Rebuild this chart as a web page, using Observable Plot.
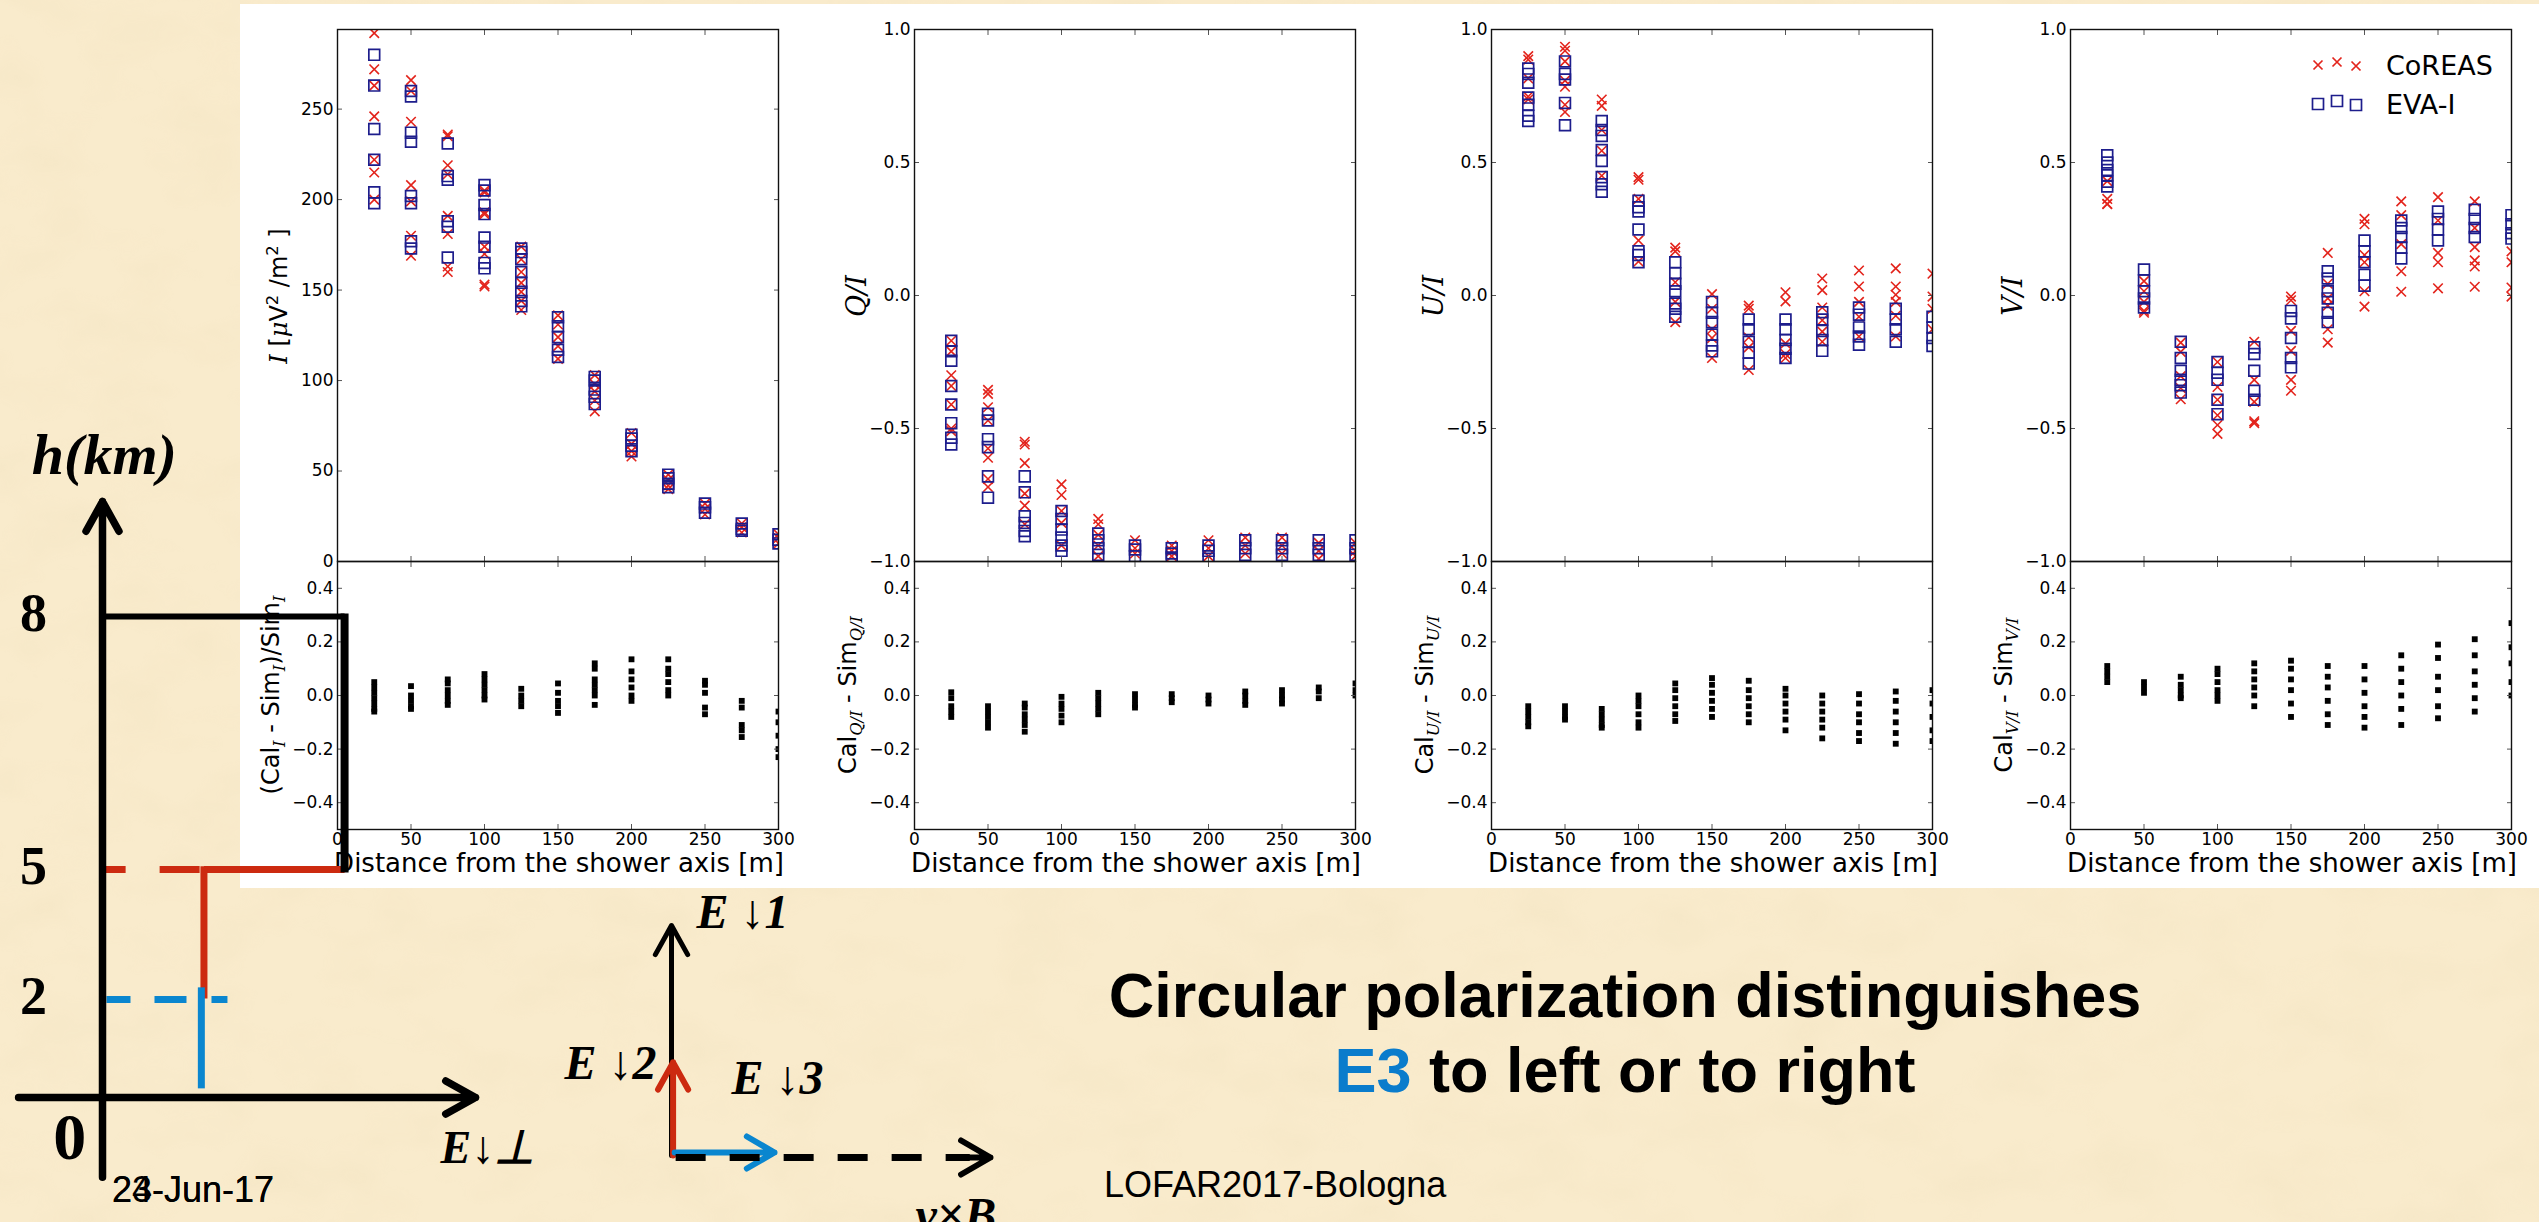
<!DOCTYPE html>
<html>
<head>
<meta charset="utf-8">
<script src="https://cdn.jsdelivr.net/npm/d3@7"></script>
<script src="https://cdn.jsdelivr.net/npm/@observablehq/plot@0.6"></script>
<style>
  html, body { margin: 0; padding: 0; }
  body { width: 2539px; height: 1222px; overflow: hidden; position: relative; background: #f9ebcc;
         font-family: "Liberation Sans", Arial, sans-serif; }
  .abs { position: absolute; }
  #sheet { left: 240px; top: 4px; width: 2299px; height: 884px; background: #fff; }
  .ylab { position: absolute; transform: translate(-50%, -50%) rotate(-90deg); white-space: nowrap;
          font-family: "DejaVu Sans", sans-serif; color: #000; line-height: 1; }
  .ylab sub, .ylab sup { font-size: 0.68em; line-height: 0; }
  .math { font-family: "DejaVu Serif", serif; font-style: italic; }
  .xlab { position: absolute; white-space: nowrap; font-family: "DejaVu Sans", sans-serif; font-size: 26px;
          line-height: 26px; transform: translateX(-50%); color: #000; }
  .slide { position: absolute; white-space: nowrap; color: #000; }
</style>
</head>
<body>
<svg class="abs" style="left:0;top:0" width="2539" height="1222">
  <filter id="paper" x="0" y="0" width="100%" height="100%">
    <feTurbulence type="fractalNoise" baseFrequency="0.012 0.02" numOctaves="3" seed="7"/>
    <feColorMatrix type="matrix" values="0 0 0 0 0.86  0 0 0 0 0.74  0 0 0 0 0.5  0 0 0 1.6 -0.7"/>
  </filter>
  <rect width="2539" height="1222" fill="#f9ebcc"/>
  <rect width="2539" height="1222" filter="url(#paper)" opacity="0.35"/>
</svg>
<div id="sheet" class="abs"></div>

<script>
// Distances from the shower axis [m] at which the antennas sit
const distances = [25, 50, 75, 100, 125, 150, 175, 200, 225, 250, 275, 300];
const distTicks = [0, 50, 100, 150, 200, 250, 300];

// Stokes I [µV²/m²]
const iCoreas = [
  [292, 272, 263, 246, 222, 215, 200],
  [266, 260, 243, 208, 199, 180, 169],
  [236, 235, 219, 214, 191, 181, 163, 160],
  [205, 204, 193, 192, 174, 170, 153, 152],
  [174, 167, 160, 154, 149, 144, 139],
  [136, 131, 124, 119, 112],
  [103, 98, 94, 89, 83],
  [71, 65, 61, 58],
  [48, 45, 42, 40],
  [32, 29, 26],
  [21, 19, 16],
  [15, 13, 10]
];
const iEva = [
  [280, 263, 239, 222, 204, 198],
  [260, 257, 237, 232, 202, 198, 177, 173],
  [231, 213, 211, 188, 185, 168],
  [208, 205, 197, 192, 179, 174, 165, 162],
  [173, 171, 167, 160, 154, 149, 144, 141],
  [135, 130, 124, 117, 113],
  [102, 100, 95, 91, 87],
  [70, 68, 64, 61],
  [48, 46, 43, 41],
  [32, 30, 27],
  [21, 18, 17],
  [15, 12, 10]
];
const iResidual = [
  [0.05, 0.03, 0.01, -0.01, -0.03, -0.05, -0.06],
  [0.035, 0.0, -0.02, -0.04, -0.05],
  [0.06, 0.045, 0.02, 0.0, -0.02, -0.035],
  [0.08, 0.06, 0.04, 0.02, 0.0, -0.015],
  [0.025, 0.0, -0.02, -0.04],
  [0.045, 0.01, -0.02, -0.04, -0.065],
  [0.12, 0.10, 0.06, 0.04, 0.02, 0.0, -0.035],
  [0.135, 0.09, 0.06, 0.03, 0.0, -0.02],
  [0.135, 0.1, 0.08, 0.05, 0.02, 0.0],
  [0.055, 0.04, 0.01, -0.045, -0.07],
  [-0.02, -0.045, -0.11, -0.13, -0.155],
  [-0.06, -0.1, -0.15, -0.2, -0.23]
];

// Q/I
const qCoreas = [
  [-0.17, -0.21, -0.30, -0.34, -0.41, -0.50, -0.51],
  [-0.355, -0.37, -0.42, -0.47, -0.575, -0.61, -0.69, -0.72],
  [-0.55, -0.56, -0.63, -0.745, -0.79, -0.86],
  [-0.71, -0.75, -0.81, -0.855, -0.94],
  [-0.84, -0.86, -0.90, -0.94, -0.98],
  [-0.92, -0.95, -0.97],
  [-0.94, -0.96, -0.98],
  [-0.92, -0.95, -0.98],
  [-0.91, -0.94, -0.97],
  [-0.91, -0.94, -0.97],
  [-0.93, -0.96, -0.99],
  [-0.93, -0.96, -0.98]
];
const qEva = [
  [-0.17, -0.21, -0.245, -0.34, -0.41, -0.48, -0.535, -0.56],
  [-0.445, -0.47, -0.54, -0.57, -0.68, -0.76],
  [-0.68, -0.74, -0.83, -0.855, -0.885, -0.905],
  [-0.81, -0.84, -0.88, -0.91, -0.94, -0.96],
  [-0.895, -0.92, -0.95, -0.975],
  [-0.94, -0.955, -0.98],
  [-0.95, -0.97, -0.985],
  [-0.94, -0.96, -0.99],
  [-0.92, -0.95, -0.975],
  [-0.92, -0.95, -0.975],
  [-0.92, -0.95, -0.975],
  [-0.92, -0.95, -0.975]
];
const qResidual = [
  [0.012, -0.01, -0.04, -0.06, -0.08],
  [-0.04, -0.06, -0.08, -0.1, -0.12],
  [-0.03, -0.045, -0.07, -0.09, -0.11, -0.135],
  [-0.005, -0.03, -0.05, -0.075, -0.1],
  [0.01, -0.01, -0.03, -0.05, -0.07],
  [0.005, -0.015, -0.035, -0.045],
  [0.005, -0.01, -0.025],
  [0.0, -0.015, -0.03],
  [0.015, 0.0, -0.02, -0.035],
  [0.02, 0.0, -0.015, -0.03],
  [0.03, 0.015, -0.01],
  [0.045, 0.02, 0.0]
];

// U/I
const uCoreas = [
  [0.90, 0.887, 0.816, 0.748, 0.737],
  [0.935, 0.92, 0.88, 0.808, 0.785, 0.717, 0.69],
  [0.737, 0.713, 0.622, 0.544, 0.45],
  [0.445, 0.435, 0.363, 0.207, 0.128],
  [0.18, 0.166, 0.05, -0.024, -0.1],
  [0.005, -0.05, -0.127, -0.16, -0.235],
  [-0.038, -0.05, -0.158, -0.195, -0.28],
  [0.012, -0.022, -0.18, -0.22, -0.235],
  [0.064, 0.02, -0.045, -0.093, -0.136, -0.174],
  [0.094, 0.034, -0.024, -0.08, -0.154],
  [0.102, 0.034, 0.003, -0.024, -0.076, -0.154],
  [0.082, -0.004, -0.05, -0.127]
];
const uEva = [
  [0.853, 0.833, 0.80, 0.744, 0.717, 0.676, 0.656],
  [0.88, 0.833, 0.812, 0.724, 0.64],
  [0.656, 0.622, 0.60, 0.547, 0.506, 0.445, 0.418, 0.39],
  [0.356, 0.332, 0.316, 0.248, 0.166, 0.152, 0.125],
  [0.125, 0.084, 0.044, 0.016, -0.03, -0.05, -0.08],
  [-0.024, -0.065, -0.1, -0.147, -0.188, -0.21],
  [-0.09, -0.127, -0.174, -0.215, -0.256],
  [-0.09, -0.127, -0.167, -0.2, -0.235],
  [-0.063, -0.09, -0.133, -0.167, -0.208],
  [-0.045, -0.072, -0.12, -0.154, -0.185],
  [-0.05, -0.09, -0.127, -0.174],
  [-0.08, -0.12, -0.16, -0.19]
];
const uResidual = [
  [-0.04, -0.06, -0.08, -0.1, -0.115],
  [-0.04, -0.06, -0.08, -0.09],
  [-0.05, -0.07, -0.09, -0.11, -0.12],
  [0.0, -0.02, -0.04, -0.07, -0.1, -0.12],
  [0.045, 0.02, -0.01, -0.04, -0.07, -0.095],
  [0.065, 0.04, 0.01, -0.02, -0.05, -0.08],
  [0.055, 0.02, -0.01, -0.04, -0.07, -0.1],
  [0.025, 0.0, -0.03, -0.06, -0.09, -0.13],
  [0.0, -0.03, -0.06, -0.09, -0.12, -0.16],
  [0.005, -0.03, -0.07, -0.1, -0.14, -0.17],
  [0.015, -0.02, -0.06, -0.1, -0.14, -0.18],
  [0.02, -0.03, -0.08, -0.13, -0.17]
];

// V/I
const vCoreas = [
  [0.43, 0.363, 0.345, 0.343],
  [0.054, 0.016, -0.024, -0.058, -0.065],
  [-0.177, -0.212, -0.303, -0.348, -0.39],
  [-0.25, -0.344, -0.392, -0.45, -0.487, -0.52],
  [-0.174, -0.317, -0.4, -0.473, -0.48],
  [-0.004, -0.018, -0.133, -0.208, -0.317, -0.358],
  [0.16, 0.044, -0.011, -0.038, -0.127, -0.177],
  [0.288, 0.268, 0.152, 0.125, 0.016, -0.042],
  [0.354, 0.302, 0.193, 0.091, 0.014],
  [0.37, 0.282, 0.16, 0.125, 0.027],
  [0.354, 0.254, 0.182, 0.132, 0.109, 0.033],
  [0.166, 0.125, 0.03, -0.004]
];
const vEva = [
  [0.527, 0.5, 0.472, 0.452, 0.428, 0.41],
  [0.098, 0.057, 0.016, -0.011, -0.045],
  [-0.174, -0.235, -0.283, -0.317, -0.337, -0.365],
  [-0.25, -0.29, -0.317, -0.392, -0.446],
  [-0.195, -0.22, -0.283, -0.358, -0.392],
  [-0.058, -0.086, -0.16, -0.235, -0.27],
  [0.091, 0.064, 0.016, -0.011, -0.065, -0.1],
  [0.207, 0.166, 0.125, 0.078, 0.037],
  [0.282, 0.254, 0.22, 0.18, 0.139],
  [0.316, 0.288, 0.248, 0.207],
  [0.322, 0.288, 0.254, 0.22],
  [0.302, 0.268, 0.234, 0.214]
];
const vResidual = [
  [0.11, 0.09, 0.07, 0.05],
  [0.05, 0.03, 0.01],
  [0.07, 0.04, 0.02, 0.0, -0.01],
  [0.1, 0.08, 0.05, 0.02, 0.0, -0.02],
  [0.12, 0.09, 0.06, 0.03, 0.0, -0.04],
  [0.13, 0.1, 0.06, 0.02, -0.03, -0.08],
  [0.11, 0.07, 0.03, -0.02, -0.07, -0.11],
  [0.11, 0.06, 0.01, -0.04, -0.08, -0.12],
  [0.15, 0.1, 0.05, 0.0, -0.05, -0.11],
  [0.19, 0.14, 0.07, 0.02, -0.04, -0.085],
  [0.21, 0.15, 0.09, 0.04, -0.01, -0.06],
  [0.27, 0.18, 0.12, 0.05, 0.0]
];

const intensityTicks = [0, 50, 100, 150, 200, 250];
const ratioTicks = [-1, -0.5, 0, 0.5, 1];
const residualTicks = [-0.4, -0.2, 0, 0.2, 0.4];
const legendLabels = ["CoREAS", "EVA-I"];

// Schematic height profile (not to scale): each height level has a drawing position
const heightLevels = [{h: 8, pos: 100}, {h: 5, pos: 47.4}, {h: 2, pos: 20.4}];
const profileAxes = [
  {x1: 0, y1: -16.6, x2: 0, y2: 123.9},
  {x1: -22.5, y1: 0, x2: 100, y2: 0}
];
const profileSolid = [
  {x1: 0, y1: 100, x2: 64.9, y2: 100, color: "black", width: 6},
  {x1: 27.2, y1: 47.4, x2: 64.9, y2: 47.4, color: "#cc2a10", width: 7},
  {x1: 27.2, y1: 48.1, x2: 27.2, y2: 20.6, color: "#cc2a10", width: 7},
  {x1: 26.5, y1: 22.9, x2: 26.5, y2: 1.9, color: "#0a86cf", width: 7},
  {x1: 64.9, y1: 100.6, x2: 64.9, y2: 46.8, color: "black", width: 8}
];
const redDashed = [{x1: 0.3, y1: 47.4, x2: 27.2, y2: 47.4}];
const blueDashed = [{x1: 1.07, y1: 20.4, x2: 33.5, y2: 20.4}];
const profileTitle = [{x: 0.5, y: 133.5, label: "h(km)"}];
const profileOrigin = [{x: -8.8, y: -8.3, label: "0"}];
const profileXLabel = [{x: 103.2, y: -10.6, label: "E\u2193\u22a5"}];

// Schematic field vectors in the shower plane
const e1Vector = [{x1: 0, y1: 0, x2: 0, y2: 1}];
const e2Vector = [{x1: 0.005, y1: 0, x2: 0.005, y2: 0.405}];
const e3Vector = [{x1: 0.01, y1: 0, x2: 0.323, y2: 0}];
const vxbAxis = [{x1: 0.013, y1: 0, x2: 0.935, y2: 0}];
const vxbHead = [{x1: 0, y1: 0, x2: 1, y2: 0}];
const vectorLabelsRight = [
  {x: 0.078, y: 1.057, label: "E \u21931"},
  {x: 0.188, y: 0.335, label: "E \u21933"},
  {x: 0.765, y: -0.26, label: "v\u00d7B"}
];
const vectorLabelsLeft = [{x: -0.047, y: 0.40, label: "E \u21932"}];

const RED = "#e3241c", NAVY = "#1d1d8c", TICK = "#555";
const blank = () => "";

function rows(groups) {
  return groups.flatMap((vals, i) => vals.map((v) => ({d: distances[i], v})));
}

function place(node, left, top) {
  node.style.position = "absolute";
  node.style.left = left + "px";
  node.style.top = top + "px";
  document.body.append(node);
}

function addHtml(html, cls, style) {
  const el = document.createElement("div");
  el.className = cls;
  el.innerHTML = html;
  Object.assign(el.style, style);
  document.body.append(el);
  return el;
}

const FRAME_W = 441;
const TOP_Y = 29, MID_Y = 561, BOTTOM_Y = 829;
const baseStyle = {background: "transparent", overflow: "visible", fontFamily: "DejaVu Sans", fontSize: "17px", color: "#000"};

const panels = [
  {left: 337, coreas: iCoreas, eva: iEva, res: iResidual, domain: [0, 294], ticks: intensityTicks, fmt: d3.format("d"),
   ylab: '<span class="math">I</span> [<span class="math">μ</span>V<sup>2</sup> /m<sup>2</sup> ]', ysize: 24,
   rlab: '(Cal<sub class="math">I</sub> - Sim<sub class="math">I</sub>)/Sim<sub class="math">I</sub>'},
  {left: 914, coreas: qCoreas, eva: qEva, res: qResidual, domain: [-1, 1], ticks: ratioTicks, fmt: d3.format(".1f"),
   ylab: '<span class="math">Q/I</span>', ysize: 27,
   rlab: 'Cal<sub class="math">Q/I</sub> - Sim<sub class="math">Q/I</sub>'},
  {left: 1491, coreas: uCoreas, eva: uEva, res: uResidual, domain: [-1, 1], ticks: ratioTicks, fmt: d3.format(".1f"),
   ylab: '<span class="math">U/I</span>', ysize: 27,
   rlab: 'Cal<sub class="math">U/I</sub> - Sim<sub class="math">U/I</sub>'},
  {left: 2070, coreas: vCoreas, eva: vEva, res: vResidual, domain: [-1, 1], ticks: ratioTicks, fmt: d3.format(".1f"),
   ylab: '<span class="math">V/I</span>', ysize: 27,
   rlab: 'Cal<sub class="math">V/I</sub> - Sim<sub class="math">V/I</sub>'}
];

for (const p of panels) {
  // upper panel: Stokes parameter vs distance
  {
    const ml = 70, mr = 14, mt = 12, mb = 2, fh = MID_Y - TOP_Y;
    const chart = Plot.plot({
      width: FRAME_W + ml + mr, height: fh + mt + mb,
      marginLeft: ml, marginRight: mr, marginTop: mt, marginBottom: mb,
      x: {domain: [0, 300], label: null},
      y: {domain: p.domain, label: null},
      style: baseStyle,
      marks: [
        Plot.dot(rows(p.coreas), {x: "d", y: "v", symbol: "times", r: 4.4, stroke: RED, strokeWidth: 1.6, clip: true}),
        Plot.dot(rows(p.eva), {x: "d", y: "v", symbol: "square", r: 6.1, stroke: NAVY, strokeWidth: 1.7, fill: "none", clip: true}),
        Plot.axisY({ticks: p.ticks, anchor: "left", tickSize: -5, tickPadding: 9, tickFormat: p.fmt, stroke: TICK, fontSize: 17}),
        Plot.axisY({ticks: p.ticks, anchor: "right", tickSize: -5, tickFormat: blank, stroke: TICK}),
        Plot.axisX({ticks: distTicks, anchor: "bottom", tickSize: -5, tickFormat: blank, stroke: TICK}),
        Plot.axisX({ticks: distTicks, anchor: "top", tickSize: -5, tickFormat: blank, stroke: TICK}),
        Plot.frame({stroke: "#111", strokeWidth: 1.4})
      ]
    });
    place(chart, p.left - ml, TOP_Y - mt);
  }
  // lower panel: residuals
  {
    const ml = 70, mr = 14, mt = 2, mb = 50, fh = BOTTOM_Y - MID_Y;
    const chart = Plot.plot({
      width: FRAME_W + ml + mr, height: fh + mt + mb,
      marginLeft: ml, marginRight: mr, marginTop: mt, marginBottom: mb,
      x: {domain: [0, 300], label: null},
      y: {domain: [-0.5, 0.5], label: null},
      style: baseStyle,
      marks: [
        Plot.dot(rows(p.res), {x: "d", y: "v", symbol: "square", r: 3.3, fill: "#000", clip: true}),
        Plot.axisY({ticks: residualTicks, anchor: "left", tickSize: -5, tickPadding: 9, tickFormat: d3.format(".1f"), stroke: TICK, fontSize: 17}),
        Plot.axisY({ticks: residualTicks, anchor: "right", tickSize: -5, tickFormat: blank, stroke: TICK}),
        Plot.axisX({ticks: distTicks, anchor: "bottom", tickSize: -5, tickPadding: 8, tickFormat: d3.format("d"), stroke: TICK, fontSize: 17}),
        Plot.axisX({ticks: distTicks, anchor: "top", tickSize: -5, tickFormat: blank, stroke: TICK}),
        Plot.frame({stroke: "#111", strokeWidth: 1.4})
      ]
    });
    place(chart, p.left - ml, MID_Y - mt);
  }
  addHtml(p.ylab, "ylab", {left: (p.left - 58) + "px", top: "296px", fontSize: p.ysize + "px"});
  addHtml(p.rlab, "ylab", {left: (p.left - 66) + "px", top: "695px", fontSize: "24px"});
  addHtml("Distance from the shower axis [m]", "xlab", {left: (p.left + 222) + "px", top: "850px"});
}

// legend in the V/I panel
{
  const ns = "http://www.w3.org/2000/svg";
  const svg = document.createElementNS(ns, "svg");
  svg.setAttribute("width", 230);
  svg.setAttribute("height", 90);
  const wobble = [0, -3, 1];
  legendLabels.forEach((label, row) => {
    const cy = 25 + row * 39;
    [18, 37, 56].forEach((cx, k) => {
      const y = cy + wobble[k];
      const path = document.createElementNS(ns, "path");
      if (row === 0) {
        path.setAttribute("d", `M${cx - 4.5},${y - 4.5}L${cx + 4.5},${y + 4.5}M${cx + 4.5},${y - 4.5}L${cx - 4.5},${y + 4.5}`);
        path.setAttribute("stroke", RED);
      } else {
        path.setAttribute("d", `M${cx - 5.5},${y - 5.5}h11v11h-11z`);
        path.setAttribute("stroke", NAVY);
        path.setAttribute("fill", "none");
      }
      path.setAttribute("stroke-width", 1.7);
      svg.append(path);
    });
    const t = document.createElementNS(ns, "text");
    t.setAttribute("x", 86);
    t.setAttribute("y", cy + 10);
    t.setAttribute("font-family", "DejaVu Sans");
    t.setAttribute("font-size", 27);
    t.textContent = label;
    svg.append(t);
  });
  place(svg, 2300, 40);
}

// height profile schematic
{
  const serifBold = {fontWeight: "bold", fontFamily: "Liberation Serif", fill: "black"};
  const link = {x1: "x1", y1: "y1", x2: "x2", y2: "y2", strokeWidth: 7, strokeLinecap: "butt"};
  const chart = Plot.plot({
    width: 560, height: 1222, margin: 0,
    x: {domain: [0, 100], range: [102, 475], axis: null},
    y: {domain: [0, 100], range: [1097, 616], axis: null},
    style: {background: "transparent", overflow: "visible"},
    marks: [
      Plot.link(redDashed, {...link, stroke: "#cc2a10", strokeDasharray: "22,34,40,30"}),
      Plot.link(blueDashed, {...link, stroke: "#0a86cf", strokeDasharray: "24,24,32,25"}),
      Plot.link(profileSolid, {x1: "x1", y1: "y1", x2: "x2", y2: "y2", stroke: "color", strokeWidth: "width", strokeLinecap: "butt"}),
      Plot.arrow(profileAxes, {x1: "x1", y1: "y1", x2: "x2", y2: "y2", stroke: "black", strokeWidth: 7.5, headAngle: 58, headLength: 6.8, strokeLinecap: "round", strokeLinejoin: "round"}),
      Plot.text(heightLevels, {x: -18.5, y: "pos", text: (d) => String(d.h), dy: -3, fontSize: 54, ...serifBold}),
      Plot.text(profileOrigin, {x: "x", y: "y", text: "label", fontSize: 66, ...serifBold}),
      Plot.text(profileTitle, {x: "x", y: "y", text: "label", fontSize: 58, fontStyle: "italic", ...serifBold}),
      Plot.text(profileXLabel, {x: "x", y: "y", text: "label", fontSize: 46, fontStyle: "italic", ...serifBold})
    ]
  });
  place(chart, 0, 0);
}

// field vectors schematic
{
  const labelStyle = {fontSize: 48, fontWeight: "bold", fontStyle: "italic", fontFamily: "Liberation Serif", fill: "black"};
  const chart = Plot.plot({
    width: 500, height: 342, margin: 0,
    x: {domain: [0, 1], range: [131, 450], axis: null},
    y: {domain: [0, 1], range: [275, 45], axis: null},
    style: {background: "transparent", overflow: "visible"},
    marks: [
      Plot.arrow(e1Vector, {x1: "x1", y1: "y1", x2: "x2", y2: "y2", stroke: "black", strokeWidth: 5, headAngle: 58, headLength: 10, strokeLinecap: "round"}),
      Plot.arrow(e2Vector, {x1: "x1", y1: "y1", x2: "x2", y2: "y2", stroke: "#cc2a10", strokeWidth: 6, headAngle: 58, headLength: 7.8, strokeLinecap: "round"}),
      Plot.arrow(e3Vector, {x1: "x1", y1: "y1", x2: "x2", y2: "y2", dy: -3, stroke: "#0a86cf", strokeWidth: 6, headAngle: 60, headLength: 8, strokeLinecap: "round"}),
      Plot.link(vxbAxis, {x1: "x1", y1: "y1", x2: "x2", y2: "y2", dy: 2, stroke: "black", strokeWidth: 7, strokeDasharray: "30,24"}),
      Plot.arrow(vxbHead, {x1: "x1", y1: "y1", x2: "x2", y2: "y2", dy: 2, insetStart: 290, stroke: "black", strokeWidth: 6, headAngle: 60, headLength: 8.5, strokeLinecap: "round"}),
      Plot.text(vectorLabelsRight, {x: "x", y: "y", text: "label", textAnchor: "start", ...labelStyle}),
      Plot.text(vectorLabelsLeft, {x: "x", y: "y", text: "label", textAnchor: "end", ...labelStyle})
    ]
  });
  place(chart, 540, 880);
}

// slide text
addHtml('Circular polarization distinguishes<br><span style="color:#0a7ccc">E3</span> to left or to right', "slide",
  {left: "925px", top: "957.7px", width: "1400px", textAlign: "center", fontSize: "63px", lineHeight: "75px", fontWeight: "bold", fontFamily: '"Liberation Sans", Arial, sans-serif'});
addHtml("LOFAR2017-Bologna", "slide", {left: "1104px", top: "1167px", fontSize: "36px", lineHeight: "36px"});
addHtml("24-Jun-17", "slide", {left: "112px", top: "1172px", fontSize: "36px", lineHeight: "36px"});
addHtml("23-Jun-17", "slide", {left: "112px", top: "1172px", fontSize: "36px", lineHeight: "36px"});
</script>
</body>
</html>
